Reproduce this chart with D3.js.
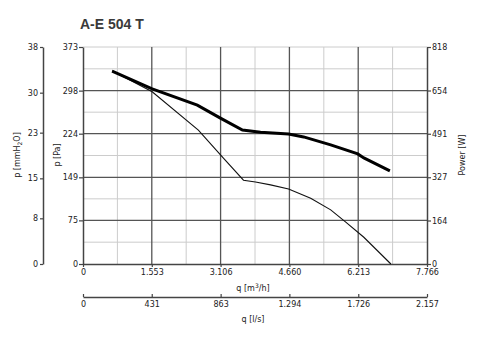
<!DOCTYPE html>
<html>
<head>
<script src="https://cdn.jsdelivr.net/npm/d3@7"></script>
<style>
  body { margin: 0; background: #fff; }
  svg { display: block; }
  text { font-family: "DejaVu Sans", Verdana, sans-serif; fill: #222; }
  .axis path, .axis line { stroke: #444; stroke-width: 1.2; }
  .axis text { font-size: 8px; }
</style>
</head>
<body>
<svg width="496" height="338"></svg>
<script>
  // tick labels of the axes
  var qTicks = [0, 1553, 3106, 4660, 6213, 7766];
  var qLabels = ['0', '1.553', '3.106', '4.660', '6.213', '7.766'];
  var lsTicks = [0, 431, 863, 1294, 1726, 2157];
  var paTicks = [0, 75, 149, 224, 298, 373];
  var mmTicks = [0, 8, 15, 23, 30, 38];
  var wTicks = [0, 164, 327, 491, 654, 818];

  // pressure curve: q [m3/h] -> p [Pa]
  var presQ = [657, 1562, 2604, 3170, 3623, 3894, 4234, 4641, 5140, 5592, 5932, 6340, 6951];
  var presP = [332, 296, 230, 182, 144, 141, 136, 129, 113, 93, 72, 46, 0];

  // power curve: q [m3/h] -> W
  var powQ = [657, 1562, 2581, 3102, 3600, 4008, 4641, 4981, 5592, 6203, 6340, 6928];
  var powW = [727, 660, 599, 550, 505, 497, 490, 479, 449, 415, 400, 351];

  var pLeft = 83, pRight = 427, pTop = 47, pBottom = 264;

  var svg = d3.select('svg');

  var x = d3.scaleLinear().domain([0, 7766]).range([pLeft, pRight]);
  var xls = d3.scaleLinear().domain([0, 2157]).range([pLeft, pRight]);
  var yPa = d3.scaleLinear().domain([0, 373]).range([pBottom, pTop]);
  var yMm = d3.scaleLinear().domain([0, 38]).range([pBottom, pTop]);
  var yW = d3.scaleLinear().domain([0, 818]).range([pBottom, pTop]);

  // grid
  var grid = svg.append('g');
  var minorQ = [], minorP = [];
  for (var i = 0; i < qTicks.length - 1; i++) {
    minorQ.push((qTicks[i] + qTicks[i + 1]) / 2);
    minorP.push((paTicks[i] + paTicks[i + 1]) / 2);
  }
  grid.selectAll('.vmin').data(minorQ).enter().append('line')
    .attr('x1', function(d) { return x(d); }).attr('x2', function(d) { return x(d); })
    .attr('y1', pTop).attr('y2', pBottom)
    .style('stroke', '#ccc').style('stroke-width', 1);
  grid.selectAll('.hmin').data(minorP.concat([373])).enter().append('line')
    .attr('y1', function(d) { return yPa(d); }).attr('y2', function(d) { return yPa(d); })
    .attr('x1', pLeft).attr('x2', pRight)
    .style('stroke', '#ccc').style('stroke-width', 1);
  grid.selectAll('.vmaj').data(qTicks.slice(1, -1)).enter().append('line')
    .attr('x1', function(d) { return x(d); }).attr('x2', function(d) { return x(d); })
    .attr('y1', pTop).attr('y2', pBottom)
    .style('stroke', '#555').style('stroke-width', 1.3);
  grid.selectAll('.hmaj').data(paTicks.slice(1, -1)).enter().append('line')
    .attr('y1', function(d) { return yPa(d); }).attr('y2', function(d) { return yPa(d); })
    .attr('x1', pLeft).attr('x2', pRight)
    .style('stroke', '#555').style('stroke-width', 1.3);

  // axes
  svg.append('g').attr('class', 'axis').attr('transform', 'translate(' + pLeft + ',0)')
    .call(d3.axisLeft(yPa).tickValues(paTicks).tickSizeInner(4).tickSizeOuter(0).tickPadding(1));
  svg.append('g').attr('class', 'axis').attr('transform', 'translate(43,0)')
    .call(d3.axisLeft(yMm).tickValues(mmTicks).tickSizeInner(3).tickSizeOuter(0).tickPadding(2));
  svg.append('g').attr('class', 'axis').attr('transform', 'translate(' + pRight + ',0)')
    .call(d3.axisRight(yW).tickValues(wTicks).tickSizeInner(4).tickSizeOuter(0).tickPadding(1));
  svg.append('g').attr('class', 'axis').attr('transform', 'translate(0,' + pBottom + ')')
    .call(d3.axisBottom(x).tickValues(qTicks).tickFormat(function(d, i) { return qLabels[i]; })
      .tickSizeInner(3).tickSizeOuter(0).tickPadding(2));
  svg.append('g').attr('class', 'axis').attr('transform', 'translate(0,297)')
    .call(d3.axisBottom(xls).tickValues(lsTicks).tickFormat(function(d) { return d3.format(',')(d).replace(',', '.'); })
      .tickSizeInner(-3).tickSizeOuter(0).tickPadding(4));
  svg.selectAll('.axis .domain').style('stroke-width', 1.5);

  // curves
  var pres = presQ.map(function(q, i) { return [q, presP[i]]; });
  var pow = powQ.map(function(q, i) { return [q, powW[i]]; });
  svg.append('path').datum(pres)
    .attr('d', d3.line().x(function(d) { return x(d[0]); }).y(function(d) { return yPa(d[1]); }))
    .style('fill', 'none').style('stroke', '#111').style('stroke-width', 1.1);
  svg.append('path').datum(pow)
    .attr('d', d3.line().x(function(d) { return x(d[0]); }).y(function(d) { return yW(d[1]); }))
    .style('fill', 'none').style('stroke', '#000').style('stroke-width', 3);

  // texts
  svg.append('text').attr('x', 80).attr('y', 29)
    .style('font-family', '"Liberation Sans", Arial, sans-serif').style('font-weight', 'bold')
    .style('font-size', '14px').style('fill', '#3a3a3a').text('A-E 504 T');

  var mm = svg.append('text').attr('transform', 'translate(20,155) rotate(-90)')
    .attr('text-anchor', 'middle').style('font-size', '8px');
  mm.append('tspan').text('p [mmH');
  mm.append('tspan').attr('dy', 2).style('font-size', '6px').text('2');
  mm.append('tspan').attr('dy', -2).text('O]');

  svg.append('text').attr('transform', 'translate(60,155) rotate(-90)')
    .attr('text-anchor', 'middle').style('font-size', '8px').text('p [Pa]');
  svg.append('text').attr('transform', 'translate(465,155) rotate(-90)')
    .attr('text-anchor', 'middle').style('font-size', '8px').text('Power [W]');

  var qm = svg.append('text').attr('x', 253).attr('y', 291).attr('text-anchor', 'middle').style('font-size', '8px');
  qm.append('tspan').text('q [m');
  qm.append('tspan').attr('dy', -3).style('font-size', '6px').text('3');
  qm.append('tspan').attr('dy', 3).text('/h]');
  svg.append('text').attr('x', 253).attr('y', 322).attr('text-anchor', 'middle')
    .style('font-size', '8px').text('q [l/s]');
</script>
</body>
</html>
